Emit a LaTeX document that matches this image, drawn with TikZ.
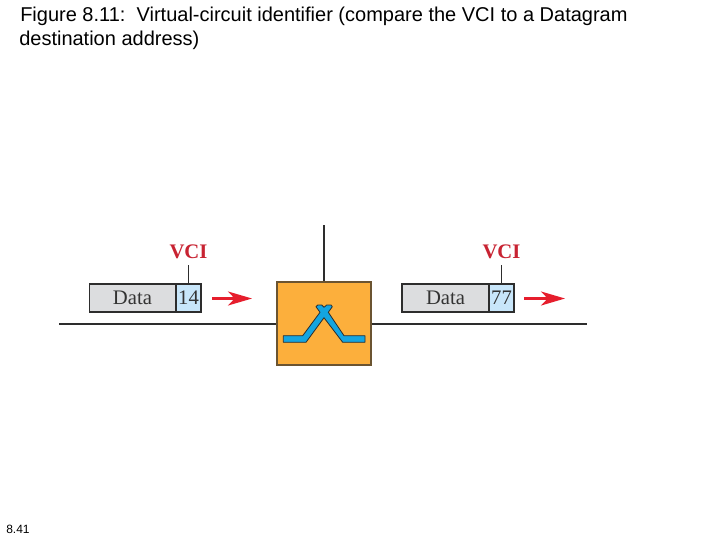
\documentclass[tikz,border=0pt]{standalone}
\usepackage{fontspec}
\setmainfont{Liberation Sans}
\newfontfamily\figserif{Liberation Serif}
\usetikzlibrary{arrows.meta}
\definecolor{boxorange}{RGB}{252,175,60}
\definecolor{cellgray}{RGB}{220,221,223}
\definecolor{cellblue}{RGB}{200,230,250}
\definecolor{switchblue}{RGB}{20,165,225}
\definecolor{vcired}{RGB}{200,35,50}
\definecolor{arrowred}{RGB}{230,30,45}
\definecolor{linegray}{RGB}{45,45,45}
\begin{document}
\begin{tikzpicture}[x=0.75pt,y=-0.75pt,
                    cellnode/.style = {shape = rectangle,
                                       draw = linegray,
                                       line width = 1.4pt,
                                       inner sep=0pt,
                                       minimum height = 21 pt,
                                       text = black!80,
                                       font=\figserif\fontsize{15.5}{15.5}\selectfont},
                    vcinode/.style = {text = vcired,
                                      inner sep=0pt,
                                      font=\figserif\bfseries\fontsize{15.5}{15.5}\selectfont},
                    wire/.style = {draw = linegray, line width = 1.5pt},
                    stem/.style = {draw = linegray, line width = 0.6pt},
                    flow/.style = {draw = arrowred, line width = 1.6pt,
                                   -{Stealth[length=18pt,width=10.5pt,inset=5pt]}}]
		\path[use as bounding box] (0,0) rectangle (720,540);
		\fill[white] (0,0) rectangle (720,540);
		% title and page number
		\node[anchor=base west,inner sep=0pt,font=\fontsize{15}{15}\selectfont] (title1) at (20,21) {Figure 8.11:\ \ Virtual-circuit identifier (compare the VCI to a Datagram};
		\node[anchor=base west,inner sep=0pt,font=\fontsize{15}{15}\selectfont] (title2) at (19,45) {destination address)};
		\node[anchor=base west,inner sep=0pt,font=\fontsize{9}{9}\selectfont] (page) at (6,533) {8.41};
		% switch
		\node[draw=linegray!70!boxorange,line width=1pt,fill=boxorange,inner sep=0pt,minimum width=70.5pt,minimum height=62.25pt] (switch) at (324,323.5) {};
		\coordinate (up) at (324,225);
		\coordinate (left) at (59,323.5);
		\coordinate (right) at (587,323.5);
		\path[wire] (up) -- (switch.north);
		\path[wire] (left) -- (switch.west |- left);
		\path[wire] (switch.east |- right) -- (right);
		\filldraw[fill=switchblue,draw=linegray,line width=0.6pt,line join=round]
			(283.3,335.7) -- (302.7,335.7) -- (320,312.3) -- (316,306.7) -- (317.7,305) -- (321.7,305) -- (324,307.3)
			-- (326.7,305) -- (331,305) -- (332.3,306.7) -- (328.3,312.3) -- (344,335.7) -- (365,335.7) -- (365,342.3)
			-- (342.7,342.3) -- (324,317.7) -- (306,342.3) -- (283.3,342.3) -- cycle;
		% left packet
		\node[cellnode,fill=cellgray,minimum width=64.5pt] (data1) at (132.5,298) {Data};
		\node[cellnode,fill=cellblue,minimum width=19pt] (vci1) at (188.5,298) {14};
		\node[vcinode] (label1) at (188.5,252) {VCI};
		\coordinate (tick1) at (188.5,265);
		\path[stem] (tick1) -- (vci1.north);
		\coordinate (from1) at (212,298.5);
		\coordinate (to1) at (252,298.5);
		\path[flow] (from1) -- (to1);
		% right packet
		\node[cellnode,fill=cellgray,minimum width=65pt] (data2) at (445.5,298) {Data};
		\node[cellnode,fill=cellblue,minimum width=19pt] (vci2) at (501.5,298) {77};
		\node[vcinode] (label2) at (501.5,252) {VCI};
		\coordinate (tick2) at (501.5,265);
		\path[stem] (tick2) -- (vci2.north);
		\coordinate (from2) at (524,298.5);
		\coordinate (to2) at (565,298.5);
		\path[flow] (from2) -- (to2);
	\end{tikzpicture}
\end{document}
